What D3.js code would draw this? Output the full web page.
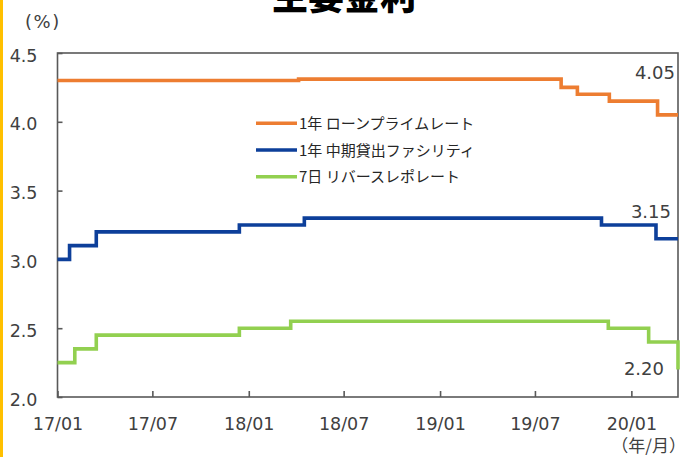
<!DOCTYPE html>
<html>
<head>
<meta charset="utf-8">
<script src="https://cdn.jsdelivr.net/npm/d3@7"></script>
<style>
  html, body { margin: 0; padding: 0; background: #fff; }
  svg { display: block; }
</style>
</head>
<body>
<svg id="chart" width="687" height="457"></svg>
<script>
// ---- data ----
const seriesNames = ["1年 ローンプライムレート", "1年 中期貸出ファシリティ", "7日  リバースレポレート"];
const lprDates = ["2017-01-01","2018-04-06","2019-08-20","2019-09-20","2019-11-20","2020-02-20","2020-03-30"];
const lprValues = [4.30, 4.31, 4.25, 4.20, 4.15, 4.05, 4.05];
const mlfDates = ["2017-01-01","2017-01-24","2017-03-16","2017-12-14","2018-04-17","2019-11-05","2020-02-17","2020-03-30"];
const mlfValues = [3.00, 3.10, 3.20, 3.25, 3.30, 3.25, 3.15, 3.15];
const rrDates = ["2017-01-01","2017-02-03","2017-03-16","2017-12-14","2018-03-22","2019-11-18","2020-02-03","2020-03-30"];
const rrValues = [2.25, 2.35, 2.45, 2.50, 2.55, 2.50, 2.40, 2.20];
const xTickDates = ["2017-01-01","2017-07-01","2018-01-01","2018-07-01","2019-01-01","2019-07-01","2020-01-01"];
const xTickLabels = ["17/01","17/07","18/01","18/07","19/01","19/07","20/01"];
const yTicks = [2.0, 2.5, 3.0, 3.5, 4.0, 4.5];
const endLabels = ["4.05", "3.15", "2.20"];
const xDomain = ["2017-01-01", "2020-03-30"];
const yDomain = [2.0, 4.5];

const colors = ["#ED7D31", "#0D3F9A", "#92D050"];

// ---- layout ----
const parse = d3.utcParse("%Y-%m-%d");
const svg = d3.select("#chart");
const L = 57.5, R = 678, T = 53, B = 397;

const x = d3.scaleUtc().domain(xDomain.map(parse)).range([L, R]);
const y = d3.scaleLinear().domain(yDomain).range([B, T]);

// left yellow bar
svg.append("rect").attr("x", 0).attr("y", 0).attr("width", 3).attr("height", 457).attr("fill", "#FFC000");

// title (partially cut at top)
svg.append("text").attr("x", 344).attr("y", 10)
  .attr("text-anchor", "middle")
  .attr("font-family", "'Noto Sans CJK JP', sans-serif")
  .attr("font-weight", 900).attr("font-size", 36).attr("fill", "#000")
  .text("主要金利");

// unit label
svg.append("text").attr("x", 25).attr("y", 28)
  .attr("font-family", "'DejaVu Sans', sans-serif").attr("font-size", 18)
  .attr("letter-spacing", 1.5).attr("fill", "#404040").text("(%)");

// frame
svg.append("rect").attr("x", L).attr("y", T).attr("width", R - L).attr("height", B - T)
  .attr("fill", "none").attr("stroke", "#595959").attr("stroke-width", 1.6);

// y axis
const yAxis = d3.axisLeft(y).tickValues(yTicks).tickSize(-5).tickPadding(0).tickFormat(d3.format(".1f"));
const gy = svg.append("g").attr("transform", `translate(${L},0)`).call(yAxis);
gy.select(".domain").remove();
gy.selectAll(".tick line").attr("stroke", "#595959").attr("stroke-width", 1.6);
gy.selectAll(".tick text").attr("x", -20).attr("dy", 8)
  .attr("font-family", "'DejaVu Sans', sans-serif").attr("font-size", 17.5).attr("fill", "#404040")
  .attr("text-anchor", "end");

// x axis
const xAxis = d3.axisBottom(x).tickValues(xTickDates.map(parse)).tickSize(-6).tickPadding(0)
  .tickFormat((d, i) => xTickLabels[i]);
const gx = svg.append("g").attr("transform", `translate(0,${B})`).call(xAxis);
gx.select(".domain").remove();
gx.selectAll(".tick line").attr("stroke", "#595959").attr("stroke-width", 1.6);
gx.selectAll(".tick text").attr("y", 33).attr("dy", 0)
  .attr("font-family", "'DejaVu Sans', sans-serif").attr("font-size", 17.5).attr("fill", "#404040");

svg.append("text").attr("x", 686).attr("y", 452).attr("text-anchor", "end")
  .attr("font-family", "'Noto Sans CJK JP', sans-serif").attr("font-size", 17).attr("fill", "#404040")
  .text("（年/月）");

// series
const series = [
  lprDates.map((d, i) => ({ date: parse(d), value: lprValues[i] })),
  mlfDates.map((d, i) => ({ date: parse(d), value: mlfValues[i] })),
  rrDates.map((d, i) => ({ date: parse(d), value: rrValues[i] }))
];
const line = d3.line().x(d => x(d.date)).y(d => y(d.value)).curve(d3.curveStepAfter);
svg.append("g").selectAll("path").data(series).join("path")
  .attr("d", line).attr("fill", "none")
  .attr("stroke", (d, i) => colors[i]).attr("stroke-width", 3.6)
  .attr("stroke-linejoin", "miter");

// end value labels
const endLabelPos = [
  { x: 675, yv: 4.05, dy: -36 },
  { x: 671, yv: 3.15, dy: -21 },
  { x: 664, yv: 2.20, dy: 6 }
];
svg.append("g").selectAll("text").data(endLabels).join("text")
  .attr("x", (d, i) => endLabelPos[i].x)
  .attr("y", (d, i) => y(endLabelPos[i].yv) + endLabelPos[i].dy)
  .attr("text-anchor", "end")
  .attr("font-family", "'DejaVu Sans', sans-serif").attr("font-size", 18).attr("fill", "#404040")
  .text(d => d);

// legend
const lg = svg.append("g");
const legendY = [123.3, 150, 176.7];
seriesNames.forEach((name, i) => {
  lg.append("line").attr("x1", 256).attr("x2", 297)
    .attr("y1", legendY[i]).attr("y2", legendY[i])
    .attr("stroke", colors[i]).attr("stroke-width", 3.4);
  lg.append("text").attr("x", 299).attr("y", legendY[i] + 5.5)
    .attr("font-family", "'Noto Sans CJK JP', sans-serif").attr("font-size", 15)
    .attr("fill", "#262626").text(name);
});
</script>
</body>
</html>
